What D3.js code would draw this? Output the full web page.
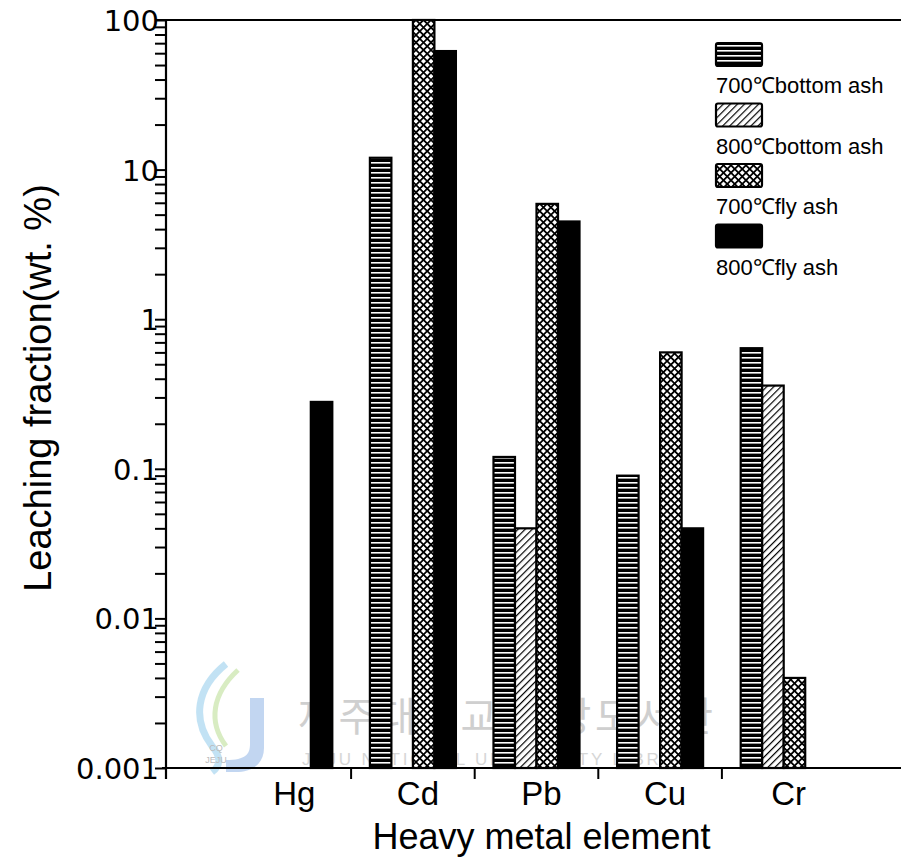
<!DOCTYPE html>
<html>
<head>
<meta charset="utf-8">
<script src="https://cdn.jsdelivr.net/npm/d3@7"></script>
<style>
  html, body { margin: 0; padding: 0; background: #fff; }
  svg { display: block; }
</style>
</head>
<body>
<svg id="chart" width="901" height="861"></svg>
<script>
// ---- Data ----
const categories = ["Hg", "Cd", "Pb", "Cu", "Cr"];
const seriesNames = ["700℃bottom ash", "800℃bottom ash", "700℃fly ash", "800℃fly ash"];
const bottomAsh700 = [null, 12, 0.12, 0.09, 0.64];
const bottomAsh800 = [null, null, 0.04, null, 0.36];
const flyAsh700    = [null, 100, 5.9, 0.6, 0.004];
const flyAsh800    = [0.28, 62, 4.5, 0.04, null];
const yTickValues = [0.001, 0.01, 0.1, 1, 10, 100];
const yTickLabels = ["0.001", "0.01", "0.1", "1", "10", "100"];
const xTitle = "Heavy metal element";
const yTitle = "Leaching fraction(wt. %)";

const seriesValues = [bottomAsh700, bottomAsh800, flyAsh700, flyAsh800];
const fills = ["url(#pHoriz)", "url(#pDiag)", "url(#pCross)", "#000"];

const svg = d3.select("#chart");
const W = 901, H = 861;
const m = { left: 166, top: 20, bottom: 768 };

// ---- Patterns ----
const defs = svg.append("defs");
const ph = defs.append("pattern").attr("id", "pHoriz").attr("patternUnits", "userSpaceOnUse")
  .attr("width", 10).attr("height", 5);
ph.append("rect").attr("width", 10).attr("height", 5).attr("fill", "#000");
ph.append("rect").attr("y", 2).attr("width", 10).attr("height", 1.6).attr("fill", "#fff");

const pd = defs.append("pattern").attr("id", "pDiag").attr("patternUnits", "userSpaceOnUse")
  .attr("width", 5).attr("height", 5).attr("patternTransform", "rotate(45)");
pd.append("rect").attr("width", 5).attr("height", 5).attr("fill", "#fff");
pd.append("line").attr("x1", 0.6).attr("y1", -1).attr("x2", 0.6).attr("y2", 6)
  .attr("stroke", "#000").attr("stroke-width", 1.2);

const pc = defs.append("pattern").attr("id", "pCross").attr("patternUnits", "userSpaceOnUse")
  .attr("width", 5.3).attr("height", 5.3).attr("patternTransform", "rotate(45)");
pc.append("rect").attr("width", 5.3).attr("height", 5.3).attr("fill", "#fff");
pc.append("line").attr("x1", 0.9).attr("y1", -1).attr("x2", 0.9).attr("y2", 7)
  .attr("stroke", "#000").attr("stroke-width", 1.8);
pc.append("line").attr("x1", -1).attr("y1", 0.9).attr("x2", 7).attr("y2", 0.9)
  .attr("stroke", "#000").attr("stroke-width", 1.8);

// ---- Watermark (faint, behind) ----
const wm = svg.append("g").attr("opacity", 0.8);
wm.append("path").attr("d", "M226,664 C196,688 192,720 212,746 C222,758 220,766 212,772")
  .attr("fill", "none").attr("stroke", "#b4dcf2").attr("stroke-width", 7);
wm.append("path").attr("d", "M238,670 C212,694 208,722 226,746")
  .attr("fill", "none").attr("stroke", "#cfe8b4").attr("stroke-width", 5);
wm.append("path").attr("d", "M250,698 L264,698 L264,748 C264,764 252,772 236,772 L226,772 L226,760 C246,760 250,754 250,744 Z")
  .attr("fill", "#b4cdee");
wm.append("text").attr("x", 216).attr("y", 751).attr("font-family", "Liberation Sans, Arial, sans-serif")
  .attr("font-size", 9).attr("fill", "#aaa").attr("text-anchor", "middle").text("CQ");
wm.append("text").attr("x", 216).attr("y", 763).attr("font-family", "Liberation Sans, Arial, sans-serif")
  .attr("font-size", 9).attr("fill", "#aaa").attr("text-anchor", "middle").text("JEJU");
wm.append("text").attr("x", 298).attr("y", 731)
  .attr("font-family", "'Noto Sans CJK KR', sans-serif").attr("font-size", 40)
  .attr("fill", "#c4c4c4").attr("textLength", 415).attr("lengthAdjust", "spacing")
  .text("제주대학교 중앙도서관");
wm.append("text").attr("x", 302).attr("y", 765)
  .attr("font-family", "Liberation Sans, Arial, sans-serif").attr("font-size", 17)
  .attr("fill", "#cdcdcd").attr("textLength", 400).attr("lengthAdjust", "spacing")
  .text("JEJU NATIONAL UNIVERSITY LIBRARY");

// ---- Scales ----
const x = d3.scaleBand().domain(categories).range([227.5, 845.5])
  .paddingInner(0.304).paddingOuter(0.152);
const xs = d3.scaleBand().domain(d3.range(seriesNames.length)).range([0, x.bandwidth()]);
const y = d3.scaleLog().domain([0.001, 100]).range([m.bottom, m.top]);

// ---- Bars ----
const gBars = svg.append("g");
seriesValues.forEach((vals, si) => {
  gBars.selectAll(null)
    .data(categories.map((c, i) => ({ c, v: vals[i] })).filter(d => d.v != null))
    .enter().append("rect")
    .attr("x", d => x(d.c) + xs(si))
    .attr("y", d => y(d.v))
    .attr("width", xs.bandwidth())
    .attr("height", d => m.bottom - y(d.v))
    .attr("fill", fills[si])
    .attr("stroke", "#000").attr("stroke-width", 2.2);
});

// ---- Axes ----
const minor = [];
for (let e = -3; e < 2; e++) for (let k = 1; k < 10; k++) minor.push(k * Math.pow(10, e));
minor.push(100);
const yAxis = d3.axisLeft(y).tickValues(minor).tickSize(11).tickPadding(8)
  .tickFormat(d => { const i = yTickValues.findIndex(t => Math.abs(t - d) / t < 1e-9); return i >= 0 ? yTickLabels[i] : ""; });
const gy = svg.append("g").attr("transform", `translate(${m.left},0)`).call(yAxis);
gy.select(".domain").remove();
gy.selectAll(".tick line").attr("stroke", "#000").attr("stroke-width", 2);
gy.selectAll(".tick text").attr("font-family", "'DejaVu Sans', sans-serif")
  .attr("font-size", 29).attr("fill", "#000").attr("dy", "0.36em").attr("x", -7);

// axis lines
svg.append("line").attr("x1", m.left).attr("x2", m.left).attr("y1", m.top - 1).attr("y2", m.bottom + 11)
  .attr("stroke", "#000").attr("stroke-width", 2.2);
svg.append("line").attr("x1", m.left - 4).attr("x2", W).attr("y1", m.bottom).attr("y2", m.bottom)
  .attr("stroke", "#000").attr("stroke-width", 2.2);
svg.append("line").attr("x1", m.left - 11).attr("x2", W).attr("y1", m.top).attr("y2", m.top)
  .attr("stroke", "#000").attr("stroke-width", 2.2);

// x ticks at band boundaries
const boundaries = categories.slice(1).map(c => x(c) - x.step() * x.paddingInner() / 2);
svg.append("g").selectAll("line").data(boundaries).enter().append("line")
  .attr("x1", d => d).attr("x2", d => d).attr("y1", m.bottom).attr("y2", m.bottom + 11)
  .attr("stroke", "#000").attr("stroke-width", 2);

// category labels
svg.append("g").selectAll("text").data(categories).enter().append("text")
  .attr("x", d => x(d) + x.bandwidth() / 2 + 5)
  .attr("y", 805)
  .attr("text-anchor", "middle")
  .attr("font-family", "'Liberation Sans', Arial, sans-serif")
  .attr("font-size", 33).attr("fill", "#000")
  .text(d => d);

// titles
svg.append("text").attr("x", (371 + 712) / 2).attr("y", 849).attr("text-anchor", "middle")
  .attr("font-family", "'Liberation Sans', Arial, sans-serif").attr("font-size", 36).attr("fill", "#000")
  .text(xTitle);
svg.append("text").attr("transform", "translate(51,388) rotate(-90)").attr("text-anchor", "middle")
  .attr("font-family", "'Liberation Sans', Arial, sans-serif").attr("font-size", 38).attr("fill", "#000")
  .text(yTitle);

// ---- Legend ----
const lg = svg.append("g").attr("transform", "translate(716,43)");
seriesNames.forEach((name, i) => {
  const g = lg.append("g").attr("transform", `translate(0,${i * 60.5})`);
  g.append("rect").attr("x", 0).attr("y", 0).attr("width", 46).attr("height", 23).attr("rx", 2)
    .attr("fill", fills[i]).attr("stroke", "#000").attr("stroke-width", 2.2);
  g.append("text").attr("x", 0).attr("y", 50)
    .attr("font-family", "'Liberation Sans', Arial, sans-serif").attr("font-size", 22).attr("fill", "#000")
    .text(name);
});
</script>
</body>
</html>
